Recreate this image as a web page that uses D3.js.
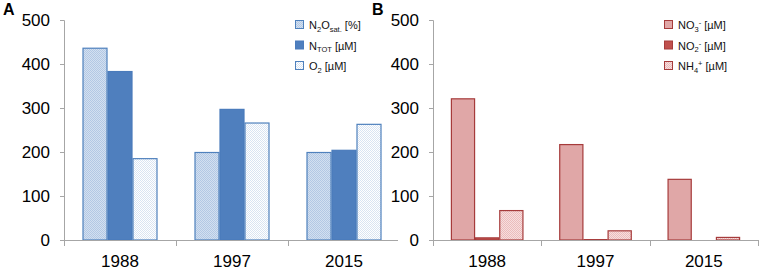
<!DOCTYPE html>
<html><head><meta charset="utf-8">
<script src="https://cdn.jsdelivr.net/npm/d3@7/dist/d3.min.js"></script>
<style>body{margin:0;background:#fff}svg{display:block;font-family:"Liberation Sans",Arial,sans-serif}</style>
</head><body><svg id="c" width="761" height="270"></svg>
<script>
const years = ["1988", "1997", "2015"];
const yTicks = [0, 100, 200, 300, 400, 500];
const seriesA = ["N2Osat", "NTOT", "O2"];
const n2oSat = [437, 200, 200];
const nTot = [384, 298, 205];
const o2 = [186, 267, 264];
const seriesB = ["NO3", "NO2", "NH4"];
const no3 = [322, 218, 139];
const no2 = [6, 2, 0.6];
const nh4 = [68, 22, 7];

const svg = d3.select("#c");
const defs = svg.append("defs");
function checker(id, c1, c2) {
  const p = defs.append("pattern").attr("id", id).attr("width", 2).attr("height", 2).attr("patternUnits", "userSpaceOnUse");
  p.append("rect").attr("width", 2).attr("height", 2).attr("fill", c1);
  p.append("rect").attr("width", 1).attr("height", 1).attr("fill", c2);
  p.append("rect").attr("x", 1).attr("y", 1).attr("width", 1).attr("height", 1).attr("fill", c2);
}
checker("pA1", "#d3e0f0", "#b3c8e4");
checker("pA3", "#ffffff", "#d9e4f2");
checker("pB3", "#f7dede", "#ebbcbc");

const styleA = [
  {fill: "url(#pA1)", stroke: "#4f81bd"},
  {fill: "#4f7fbe", stroke: "#4a7bbb"},
  {fill: "url(#pA3)", stroke: "#4f81bd"}
];
const styleB = [
  {fill: "#e0a7a7", stroke: "#a63b3b"},
  {fill: "#c0504d", stroke: "#a63b3b"},
  {fill: "url(#pB3)", stroke: "#a63b3b"}
];

function panel(opts) {
  const g = svg.append("g");
  const x = d3.scaleBand().domain(years).range([opts.x0, opts.x1]).paddingInner(0).paddingOuter(0);
  const y = d3.scaleLinear().domain([0, 500]).range([240, 20]);
  const inner = d3.scaleBand().domain(opts.series).range([0, x.bandwidth()]).paddingInner(0).paddingOuter(0.74);
  const ya = g.append("g").attr("transform", `translate(${opts.x0},0)`)
    .call(d3.axisLeft(y).tickValues(yTicks).tickSize(4).tickPadding(10).tickFormat(d3.format("d")));
  ya.select(".domain").attr("stroke", "#a6a6a6").attr("d", `M-4,20.5H0.5V240`);
  ya.selectAll(".tick line").attr("stroke", "#a6a6a6");
  ya.selectAll(".tick text").attr("font-size", 17).attr("fill", "#000").attr("font-family", "Liberation Sans, Arial, sans-serif");
  opts.data.forEach((vals, si) => {
    g.append("g").selectAll("rect").data(vals).join("rect")
      .attr("x", (d, i) => x(years[i]) + inner(opts.series[si]) + 0.5)
      .attr("y", d => y(d) + 0.5)
      .attr("width", inner.bandwidth() - 1)
      .attr("height", d => Math.max(0, y(0) - y(d) - 0.5))
      .attr("fill", opts.styles[si].fill)
      .attr("stroke", opts.styles[si].stroke)
      .attr("stroke-width", 1.2);
  });
  const xa = g.append("g").attr("transform", `translate(0,240)`);
  xa.append("line").attr("x1", opts.x0).attr("x2", opts.x1).attr("y1", 0.5).attr("y2", 0.5).attr("stroke", "#a6a6a6");
  const bounds = [opts.x0].concat(years.map(yr => x(yr) + x.bandwidth()));
  xa.selectAll("line.tk").data(bounds).join("line").attr("class", "tk")
    .attr("x1", d => Math.round(d) + 0.5).attr("x2", d => Math.round(d) + 0.5).attr("y1", 0).attr("y2", 6).attr("stroke", "#a6a6a6");
  xa.selectAll("text").data(years).join("text")
    .attr("x", d => x(d) + x.bandwidth() / 2).attr("y", 27)
    .attr("text-anchor", "middle").attr("font-size", 17).text(d => d);
  svg.append("text").attr("x", opts.labelX).attr("y", 15).attr("font-size", 16).attr("font-weight", "bold").text(opts.label);
  const lg = svg.append("g");
  const shifts = {norm: 0, sub: 2.5, sup: -4};
  opts.legend.forEach((lab, i) => {
    const cy = 25 + i * 20.5;
    lg.append("rect").attr("x", opts.legX + 0.5).attr("y", cy - 4.5).attr("width", 8).attr("height", 8)
      .attr("fill", opts.styles[i].fill).attr("stroke", opts.styles[i].stroke).attr("stroke-width", 1);
    const t = lg.append("text").attr("x", opts.legX + 14).attr("y", cy + 4).attr("font-size", 11).attr("fill", "#111");
    let cur = 0;
    lab.forEach(part => {
      const kind = part[1] || "norm";
      const target = shifts[kind];
      const ts = t.append("tspan").text(part[0]).attr("dy", target - cur);
      if (kind !== "norm") ts.attr("font-size", 7.5);
      cur = target;
    });
  });
}

panel({
  x0: 64, x1: 400, series: seriesA, data: [n2oSat, nTot, o2], styles: styleA,
  label: "A", labelX: 3, legX: 295,
  legend: [
    [["N"], ["2", "sub"], ["O"], ["sat.", "sub"], [" [%]"]],
    [["N"], ["TOT", "sub"], [" [µM]"]],
    [["O"], ["2", "sub"], [" [µM]"]]
  ]
});
svg.append("rect").attr("x", 398).attr("y", 0).attr("width", 363).attr("height", 270).attr("fill", "#fff");
panel({
  x0: 433, x1: 758, series: seriesB, data: [no3, no2, nh4], styles: styleB,
  label: "B", labelX: 372, legX: 664,
  legend: [
    [["NO"], ["3", "sub"], ["-", "sup"], [" [µM]"]],
    [["NO"], ["2", "sub"], ["-", "sup"], [" [µM]"]],
    [["NH"], ["4", "sub"], ["+", "sup"], [" [µM]"]]
  ]
});
</script></body></html>
